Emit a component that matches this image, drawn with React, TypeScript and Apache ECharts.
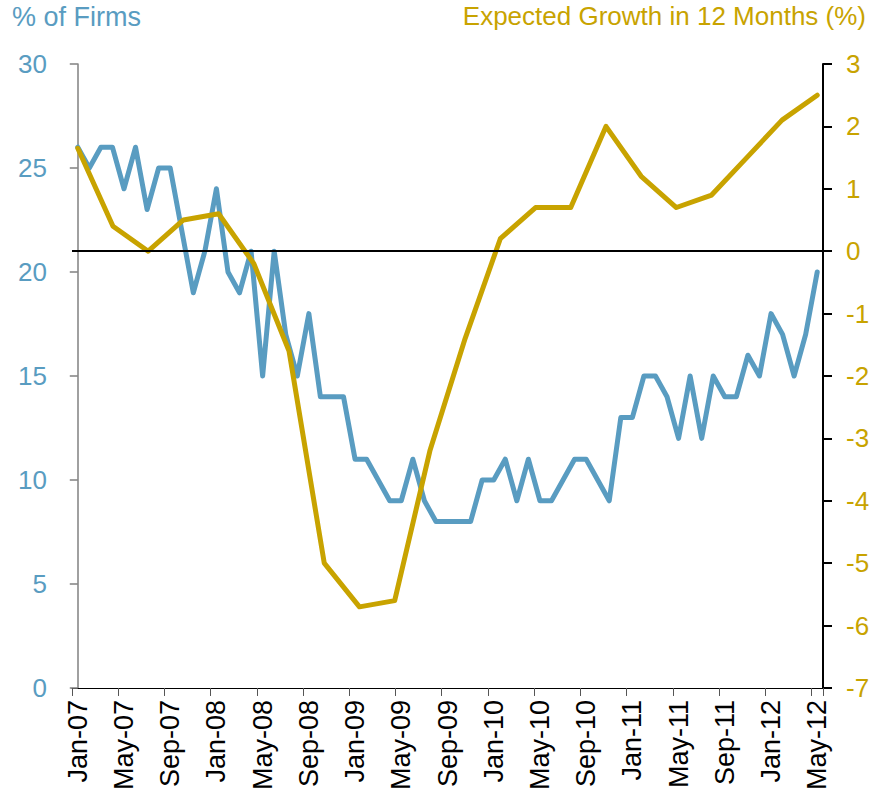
import React, { useEffect, useRef } from "react";
import * as echarts from "echarts";

const MONTHS = ["Jan", "Feb", "Mar", "Apr", "May", "Jun", "Jul", "Aug", "Sep", "Oct", "Nov", "Dec"];
const YEARS = ["07", "08", "09", "10", "11", "12"];
const MONTH_COUNT = 65; // Jan-07 .. May-12
const categories: string[] = [];
for (let i = 0; i < MONTH_COUNT; i++) {
  categories.push(`${MONTHS[i % 12]}-${YEARS[Math.floor(i / 12)]}`);
}

// % of Firms (left axis), monthly
const firmsPct = [
  26, 25, 26, 26, 24, 26, 23, 25, 25, 22, 19, 21,
  24, 20, 19, 21, 15, 21, 17, 15, 18, 14, 14, 14,
  11, 11, 10, 9, 9, 11, 9, 8, 8, 8, 8, 10,
  10, 11, 9, 11, 9, 9, 10, 11, 11, 10, 9, 13,
  13, 15, 15, 14, 12, 15, 12, 15, 14, 14, 16, 15,
  18, 17, 15, 17, 20,
];

// Expected growth in 12 months (right axis), quarterly Q1-07 .. Q2-12
const quarters = [
  "Q1-07", "Q2-07", "Q3-07", "Q4-07", "Q1-08", "Q2-08", "Q3-08", "Q4-08",
  "Q1-09", "Q2-09", "Q3-09", "Q4-09", "Q1-10", "Q2-10", "Q3-10", "Q4-10",
  "Q1-11", "Q2-11", "Q3-11", "Q4-11", "Q1-12", "Q2-12",
];
const expectedGrowth = [
  1.65, 0.4, 0.0, 0.5, 0.6, -0.2, -1.6, -5.0,
  -5.7, -5.6, -3.2, -1.4, 0.2, 0.7, 0.7, 2.0,
  1.2, 0.7, 0.9, 1.5, 2.1, 2.5,
];

const BLUE = "#599cc1";
const GOLD = "#c8a300";
const FONT = "'Liberation Sans', Arial, sans-serif";

export default function App() {
  const ref = useRef<HTMLDivElement>(null);
  useEffect(() => {
    if (!ref.current) return;
    const chart = echarts.init(ref.current, null, { renderer: "svg" });
    const q = quarters.length - 1;
    const m = MONTH_COUNT - 1;
    chart.setOption({
      animation: false,
      textStyle: { fontFamily: FONT },
      grid: { left: 72, right: 60, top: 64, bottom: 105, containLabel: false },
      graphic: [
        {
          type: "text",
          left: 12,
          top: 3,
          style: { text: "% of Firms", fill: BLUE, font: `27px ${FONT}` },
        },
        {
          type: "text",
          right: 17,
          top: 3,
          style: { text: "Expected Growth in 12 Months (%)", fill: GOLD, font: `26px ${FONT}` },
        },
      ],
      xAxis: [
        {
          type: "category",
          data: categories,
          boundaryGap: true,
          axisLine: { show: true, lineStyle: { color: "#000", width: 1 } },
          axisTick: { show: true, interval: 3, length: 8, lineStyle: { color: "#555" } },
          axisLabel: {
            interval: 3,
            rotate: 90,
            margin: 12,
            padding: [10, 0, 0, 0],
            color: "#000",
            fontSize: 27,
            fontFamily: FONT,
          },
          splitLine: { show: false },
        },
        {
          type: "value",
          show: false,
          min: (-0.5 * q) / m,
          max: ((m + 0.5) * q) / m,
        },
      ],
      yAxis: [
        {
          type: "value",
          min: 0,
          max: 30,
          interval: 5,
          position: "left",
          axisLine: { show: true, lineStyle: { color: "#808080", width: 1.5 } },
          axisTick: { show: true, length: 8, lineStyle: { color: "#808080", width: 1.5 } },
          axisLabel: { color: BLUE, fontSize: 26, margin: 25, fontFamily: FONT },
          splitLine: { show: false },
        },
        {
          type: "value",
          min: -7,
          max: 3,
          interval: 1,
          position: "right",
          axisLine: { show: true, lineStyle: { color: "#000", width: 2 } },
          axisTick: { show: true, length: 9, lineStyle: { color: "#000", width: 2 } },
          axisLabel: { color: GOLD, fontSize: 26, margin: 23, fontFamily: FONT },
          splitLine: { show: false },
        },
      ],
      series: [
        {
          name: "% of Firms",
          type: "line",
          xAxisIndex: 0,
          yAxisIndex: 0,
          data: firmsPct,
          showSymbol: false,
          symbol: "none",
          lineStyle: { color: BLUE, width: 5, join: "round", cap: "round" },
          z: 2,
        },
        {
          name: "Expected Growth in 12 Months (%)",
          type: "line",
          xAxisIndex: 1,
          yAxisIndex: 1,
          data: expectedGrowth.map((v, i) => [i, v]),
          showSymbol: false,
          symbol: "none",
          lineStyle: { color: GOLD, width: 5, join: "round", cap: "round" },
          z: 3,
          markLine: {
            silent: true,
            symbol: "none",
            label: { show: false },
            lineStyle: { color: "#000", width: 2, type: "solid" },
            data: [{ yAxis: 0 }],
          },
        },
      ],
    });
    return () => chart.dispose();
  }, []);
  return (
    <div
      ref={ref}
      style={{ position: "fixed", left: 0, top: 0, width: 883, height: 793, background: "#fff" }}
    />
  );
}
